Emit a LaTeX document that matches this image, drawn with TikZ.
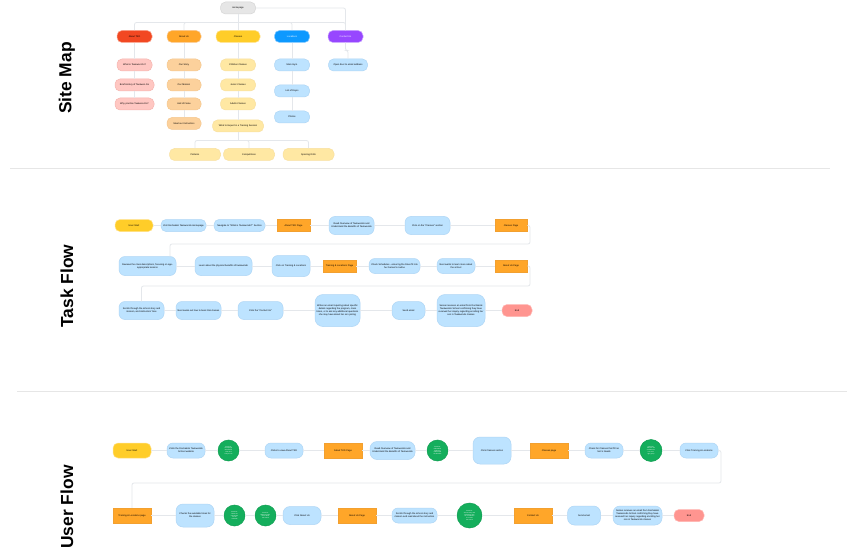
\documentclass[tikz,border=0pt]{standalone}
\usepackage{fontspec}
\setmainfont{Liberation Sans}
\definecolor{conn}{HTML}{E4E7EB}
\definecolor{sep}{HTML}{E6E6E6}
\definecolor{cGray}{HTML}{E6E6E6}\definecolor{bGray}{HTML}{D6D6D6}
\definecolor{cRed}{HTML}{F24822}\definecolor{bRed}{HTML}{F9A58F}
\definecolor{cOr}{HTML}{FFA629}\definecolor{bOr}{HTML}{F9C891}
\definecolor{cOrR}{HTML}{FFA629}\definecolor{bOrR}{HTML}{F2A030}
\definecolor{cYel}{HTML}{FFCD29}\definecolor{bYel}{HTML}{FFE28A}
\definecolor{cBlu}{HTML}{0D99FF}\definecolor{bBlu}{HTML}{80C8FF}
\definecolor{cPur}{HTML}{9747FF}\definecolor{bPur}{HTML}{C9A3FF}
\definecolor{lRed}{HTML}{FFC7C2}\definecolor{lbRed}{HTML}{F5B5B0}
\definecolor{lOr}{HTML}{FCD19C}\definecolor{lbOr}{HTML}{F5C78F}
\definecolor{lYel}{HTML}{FFE8A3}\definecolor{lbYel}{HTML}{F8E0A0}
\definecolor{lBlu}{HTML}{BDE3FF}\definecolor{lbBlu}{HTML}{AFD6F5}
\definecolor{cEnd}{HTML}{FF9590}\definecolor{bEnd}{HTML}{FFB8B4}
\definecolor{cGrn}{HTML}{14AE5C}\definecolor{bGrn}{HTML}{0F9E52}
\tikzset{
  x=1pt,y=-1pt,
  wire/.style={draw=conn,line width=0.8pt,rounded corners=2pt},
  sepline/.style={draw=sep,line width=0.8pt},
  title/.style={font=\fontsize{17.4}{20}\selectfont\bfseries,rotate=90,text=black,inner sep=0pt},
  base/.style={inner sep=0pt,align=center,font=\fontsize{2.35}{3}\selectfont,text=black,line width=0.5pt},
  sz/.style 2 args={minimum width=#1pt,minimum height=#2pt},
  pill/.style={base,rectangle,rounded corners=5pt},
  gray/.style={pill,fill=cGray,draw=bGray},
  redb/.style={pill,fill=cRed,draw=bRed},
  orb/.style={pill,fill=cOr,draw=bOr},
  yelb/.style={pill,fill=cYel,draw=bYel},
  blub/.style={pill,fill=cBlu,draw=bBlu,text=white},
  purb/.style={pill,fill=cPur,draw=bPur,text=white},
  lred/.style={pill,fill=lRed,draw=lbRed},
  lor/.style={pill,fill=lOr,draw=lbOr},
  lyel/.style={pill,fill=lYel,draw=lbYel},
  lblu/.style={pill,fill=lBlu,draw=lbBlu},
  stepb/.style={pill,fill=lBlu,draw=lbBlu,rounded corners=6pt},
  pagebox/.style={base,rectangle,fill=cOrR,draw=bOrR},
  finish/.style={pill,fill=cEnd,draw=bEnd},
  decide/.style={base,circle,fill=cGrn,draw=bGrn,text=white,font=\fontsize{1.5}{1.9}\selectfont},
}
\begin{document}
\begin{tikzpicture}
\useasboundingbox (0,0) rectangle (859,548);
\fill[white] (0,0) rectangle (859,548);

% separators and titles
\coordinate (s1a) at (10,168.5); \coordinate (s1b) at (830,168.5);
\coordinate (s2a) at (17,391.5); \coordinate (s2b) at (847,391.5);
\draw[sepline] (s1a) -- (s1b);
\draw[sepline] (s2a) -- (s2b);
\node[title] (tSite) at (67,78) {Site Map};
\node[title] (tTask) at (67,286) {Task Flow};
\node[title] (tUser) at (67,507) {User Flow};

% ---------- site map
\node[gray,sz={35}{12}] (hp) at (238,8) {Homepage};
\node[redb,sz={35}{12}] (m1) at (134.5,36.5) {About TKD};
\node[orb,sz={34}{12}] (m2) at (184,36.5) {About Us};
\node[yelb,sz={44}{12}] (m3) at (238,36.5) {Classes};
\node[blub,sz={35}{12}] (m4) at (292,36.5) {Locations};
\node[purb,sz={35}{12}] (m5) at (345.5,36.5) {Contact Us};
\node[lred,sz={35}{12}] (a1) at (134.5,65) {What is Taekwon-Do?};
\node[lred,sz={39}{12}] (a2) at (134.5,85) {Brief History of Taekwon-Do};
\node[lred,sz={39}{12}] (a3) at (134.5,104) {Why practice Taekwon-Do?};
\node[lor,sz={34}{12}] (b1) at (184,65) {Our Story};
\node[lor,sz={34}{12}] (b2) at (184,85) {Our Mission};
\node[lor,sz={34}{12}] (b3) at (184,104) {Hall of Fame};
\node[lor,sz={34}{12}] (b4) at (184,123.5) {Meet our Instructors};
\node[lyel,sz={35}{12}] (c1) at (238,65) {Children Classes};
\node[lyel,sz={35}{12}] (c2) at (238,85) {Junior Classes};
\node[lyel,sz={35}{12}] (c3) at (238,104) {Adults Classes};
\node[lyel,sz={51}{12}] (c4) at (238,126) {What to Expect in a Training Session};
\node[lyel,sz={51}{12}] (d1) at (195,154.5) {Patterns};
\node[lyel,sz={51}{12}] (d2) at (249,154.5) {Competitions};
\node[lyel,sz={51}{12}] (d3) at (308.5,154.5) {Sparring Drills};
\node[lblu,sz={35}{12}] (e1) at (292,65) {Main Gym};
\node[lblu,sz={35}{12}] (e2) at (292,91) {List of Dojos};
\node[lblu,sz={35}{12}] (e3) at (292,117) {Photos};
\node[lblu,sz={39}{12}] (f1) at (348,65) {Open door to email address};

\coordinate (bus) at (238,22.5);
\coordinate (drop) at (238,140.5);
\coordinate (kink) at (345.5,50.5);
\draw[wire] (hp) -- (bus);
\draw[wire] (bus) -| (m1);
\draw[wire] (bus) -| (m2);
\draw[wire] (bus) -- (m3);
\draw[wire] (bus) -| (m4);
\draw[wire] (bus) -| (m5);
\draw[wire] (hp.east) -| (m5.north);
\draw[wire] (m1) -- (a1); \draw[wire] (a1) -- (a2); \draw[wire] (a2) -- (a3);
\draw[wire] (m2) -- (b1); \draw[wire] (b1) -- (b2); \draw[wire] (b2) -- (b3); \draw[wire] (b3) -- (b4);
\draw[wire] (m3) -- (c1); \draw[wire] (c1) -- (c2); \draw[wire] (c2) -- (c3); \draw[wire] (c3) -- (c4);
\draw[wire] (c4) -- (drop);
\draw[wire] (drop) -| (d1);
\draw[wire] (drop) -| (d2);
\draw[wire] (drop) -| (d3);
\draw[wire] (m4) -- (e1); \draw[wire] (e1) -- (e2); \draw[wire] (e2) -- (e3);
\draw[wire] (m5.south) -- (kink) -| (f1.north);

% ---------- task flow
\node[yelb,sz={38}{12}] (t1) at (134,225.5) {User Start};
\node[lblu,sz={45}{12}] (t2) at (183.5,225.5) {Visit Dochakski Taekwondo Homepage};
\node[lblu,sz={51}{12}] (t3) at (239.5,225.5) {Navigate to ``What is Taekwondo?'' Section};
\node[pagebox,sz={33}{12}] (t4) at (293.5,225.5) {About TKD Page};
\node[stepb,sz={45}{18}] (t5) at (351.5,225.5) {Read Overview of Taekwondo and\\Understand the Benefits of Taekwondo};
\node[stepb,sz={45}{18}] (t6) at (427.5,225.5) {Click on the ``Classes'' section};
\node[pagebox,sz={32}{12}] (t7) at (511,225.5) {Classes Page};

\node[stepb,sz={57}{19}] (u1) at (147.5,266) {Reviews the class descriptions, focusing on age-\\appropriate lessons};
\node[stepb,sz={57}{19}] (u2) at (223.5,266) {Learn about the physical benefits of taekwondo};
\node[stepb,sz={38}{21}] (u3) at (291,266) {Click on Training \& Locations};
\node[pagebox,sz={33}{12}] (u4) at (339.5,266) {Training \& Locations Page};
\node[stepb,sz={51}{15}] (u5) at (394.5,266) {Check Schedules - ensuring the times fit into\\her Sensei's routine};
\node[stepb,sz={38}{15}] (u6) at (456,266) {Next wants to learn more about\\the school};
\node[pagebox,sz={32}{12}] (u7) at (511,266) {About Us Page};

\node[stepb,sz={45}{18}] (v1) at (141.5,310.5) {Scrolls through the school story and\\mission, and instructors' bios};
\node[stepb,sz={45}{18}] (v2) at (198.5,310.5) {Next seeks out how to book trial classes};
\node[stepb,sz={45}{18}] (v3) at (260.5,310.5) {Click the ``Contact Us''};
\node[stepb,rounded corners=8pt,sz={45}{32}] (v4) at (337.5,310.5) {Writes an email inquiring about specific\\details regarding the program, class\\times, or to ask any additional questions\\she may have about her son joining};
\node[stepb,rounded corners=7pt,sz={33}{18}] (v5) at (408.5,310.5) {Send email};
\node[stepb,rounded corners=8pt,sz={48}{32}] (v6) at (461,310.5) {Sensei receives an email from Dochakski\\Taekwondo School confirming they have\\received her inquiry regarding enrolling her\\son in Taekwondo classes};
\node[finish,sz={30}{12}] (v7) at (517,310.5) {End};

\coordinate (tw1) at (530,244);
\coordinate (tw2) at (530,286);
\coordinate (tin) at (170,256.5);
\draw[wire] (t1) -- (t2); \draw[wire] (t2) -- (t3); \draw[wire] (t3) -- (t4); \draw[wire] (t4) -- (t5); \draw[wire] (t5) -- (t6); \draw[wire] (t6) -- (t7);
\draw[wire] (u1) -- (u2); \draw[wire] (u2) -- (u3); \draw[wire] (u3) -- (u4); \draw[wire] (u4) -- (u5); \draw[wire] (u5) -- (u6); \draw[wire] (u6) -- (u7);
\draw[wire] (v1) -- (v2); \draw[wire] (v2) -- (v3); \draw[wire] (v3) -- (v4); \draw[wire] (v4) -- (v5); \draw[wire] (v5) -- (v6); \draw[wire] (v6) -- (v7);
\draw[wire] (t7.east) -| (tw1) -| (tin);
\draw[wire] (u7.east) -| (tw2) -| (v1.north);

% ---------- user flow
\node[yelb,sz={38}{15}] (w1) at (132,450.5) {User Start};
\node[lblu,rounded corners=6pt,sz={38}{15}] (w2) at (186,450.5) {Visits the Dochakski Taekwondo\\School website};
\node[decide,minimum size=21pt] (w3) at (228.5,450.5) {Decision:\\Homepage\\information\\clear and\\easy to use};
\node[lblu,rounded corners=6pt,sz={38}{15}] (w4) at (284,450.5) {Clicks to view About TKD};
\node[pagebox,sz={38}{15}] (w5) at (343,450.5) {About TKD Page};
\node[stepb,rounded corners=7pt,sz={45}{18}] (w6) at (392.5,450.5) {Read Overview of Taekwondo and\\Understand the Benefits of Taekwondo};
\node[decide,minimum size=21pt] (w7) at (437.5,450.5) {Decision:\\Information\\helps her\\understand\\the benefits};
\node[stepb,rounded corners=7pt,sz={38}{27}] (w8) at (492,450.5) {Click Classes section};
\node[pagebox,sz={38}{15}] (w9) at (549,450.5) {Classes page};
\node[lblu,rounded corners=6pt,sz={38}{15}] (w10) at (604,450.5) {Check for Classes that fit her\\Son's Needs};
\node[decide,minimum size=22pt] (w11) at (651,450.5) {Decision:\\Classes are\\available for\\her son's\\age group};
\node[lblu,rounded corners=6pt,sz={38}{15}] (w12) at (699,450.5) {Click Training \& Locations};

\node[pagebox,sz={38}{15}] (x1) at (132,515.5) {Training \& Locations page};
\node[stepb,rounded corners=7pt,sz={38}{23}] (x2) at (195,515.5) {Checks the available times for\\the classes};
\node[decide,minimum size=21pt] (x3) at (234.5,515.5) {Decision:\\Times are\\convenient\\for her\\schedule};
\node[decide,minimum size=21pt] (x4) at (265.5,515.5) {Decision:\\Wants to learn\\more about\\the school};
\node[stepb,rounded corners=7pt,sz={38}{18}] (x5) at (302,515.5) {Click About Us};
\node[pagebox,sz={38}{15}] (x6) at (357,515.5) {About Us Page};
\node[lblu,rounded corners=6pt,sz={45}{15}] (x7) at (414.5,515.5) {Scrolls through the school story and\\mission and read about the instructors};
\node[decide,minimum size=25pt] (x8) at (469.5,515.5) {Decision:\\School story and\\instructors give\\her confidence\\to contact\\the school};
\node[pagebox,sz={38}{15}] (x9) at (533,515.5) {Contact Us};
\node[stepb,rounded corners=7pt,sz={33}{19}] (x10) at (584,515.5) {Send email};
\node[stepb,rounded corners=7pt,sz={49}{19}] (x11) at (637.5,515.5) {Sensei receives an email from Dochakski\\Taekwondo School confirming they have\\received her inquiry regarding enrolling her\\son in Taekwondo classes};
\node[finish,sz={30}{12}] (x12) at (689,515.5) {End};

\coordinate (uw) at (721,483);
\draw[wire] (w1) -- (w2); \draw[wire] (w2) -- (w3); \draw[wire] (w3) -- (w4); \draw[wire] (w4) -- (w5); \draw[wire] (w5) -- (w6); \draw[wire] (w6) -- (w7); \draw[wire] (w7) -- (w8); \draw[wire] (w8) -- (w9); \draw[wire] (w9) -- (w10); \draw[wire] (w10) -- (w11); \draw[wire] (w11) -- (w12);
\draw[wire] (x1) -- (x2); \draw[wire] (x2) -- (x3); \draw[wire] (x3) -- (x4); \draw[wire] (x4) -- (x5); \draw[wire] (x5) -- (x6); \draw[wire] (x6) -- (x7); \draw[wire] (x7) -- (x8); \draw[wire] (x8) -- (x9); \draw[wire] (x9) -- (x10); \draw[wire] (x10) -- (x11); \draw[wire] (x11) -- (x12);
\draw[wire] (w12.east) -| (uw) -| (x1.north);
\end{tikzpicture}
\end{document}
